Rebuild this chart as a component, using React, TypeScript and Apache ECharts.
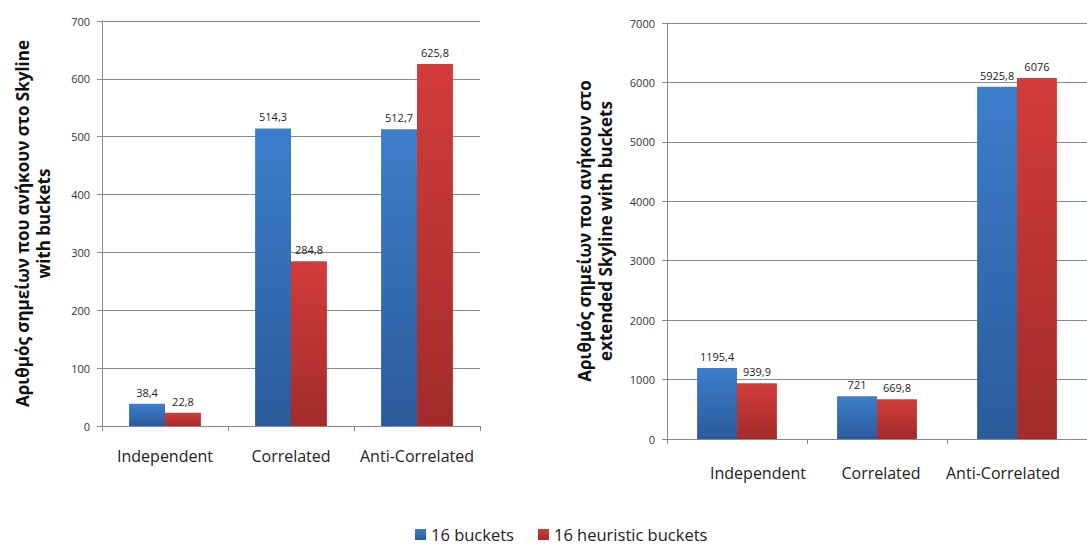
import React, { useEffect, useRef } from "react";
import * as echarts from "echarts";

// Dataset categories and values
const categories = ["Independent", "Correlated", "Anti-Correlated"];
const seriesNames = ["16 buckets", "16 heuristic buckets"];

// Skyline with buckets
const skylineBuckets = [38.4, 514.3, 512.7];
const skylineHeuristic = [22.8, 284.8, 625.8];

// Extended Skyline with buckets
const extBuckets = [1195.4, 721, 5925.8];
const extHeuristic = [939.9, 669.8, 6076];

const leftAxisName = "Αριθμός σημείων που ανήκουν στο Skyline\nwith buckets";
const rightAxisName = "Αριθμός σημείων που ανήκουν στο\nextended Skyline with buckets";

const FONT = "'Open Sans', 'Noto Sans', sans-serif";

const blueFill = new echarts.graphic.LinearGradient(0, 0, 0, 1, [
  { offset: 0, color: "#3d7ecb" },
  { offset: 1, color: "#2b5b9b" },
]);
const redFill = new echarts.graphic.LinearGradient(0, 0, 0, 1, [
  { offset: 0, color: "#d33c3b" },
  { offset: 1, color: "#a22b2b" },
]);

const fmt = (p: any) => String(p.value).replace(".", ",");

function makeBar(name: string, data: number[], idx: number, fill: any, color: string) {
  return {
    type: "bar",
    name,
    data,
    xAxisIndex: idx,
    yAxisIndex: idx,
    barGap: "0%",
    barCategoryGap: "43%",
    color,
    itemStyle: { color: fill },
    label: {
      show: true,
      position: "top",
      distance: 6,
      formatter: fmt,
      fontFamily: FONT,
      fontSize: 11,
      color: "#222",
    },
  };
}

const catLabelStyle = { fontFamily: FONT, fontSize: 16, color: "#222" };

// Right-hand panel: the category captions sit a little off-centre so the last one stays on screen
const rightLabelRich = {
  c0: { ...catLabelStyle, padding: [0, 0, 0, 42] },
  c1: { ...catLabelStyle, padding: [0, 0, 0, 8] },
  c2: { ...catLabelStyle, padding: [0, 28, 0, 0] },
};

function xAxis(idx: number, margin: number, shifted: boolean) {
  return {
    type: "category",
    gridIndex: idx,
    data: categories,
    axisLine: { lineStyle: { color: "#888", width: 1 } },
    axisTick: { show: true, length: 5, lineStyle: { color: "#888" } },
    axisLabel: shifted
      ? {
          interval: 0,
          margin,
          ...catLabelStyle,
          formatter: (v: string, i: number) => `{c${i}|${v}}`,
          rich: rightLabelRich,
        }
      : { interval: 0, margin, ...catLabelStyle },
  };
}

function yAxis(idx: number, max: number, interval: number, name: string, nameGap: number) {
  return {
    type: "value",
    gridIndex: idx,
    min: 0,
    max,
    interval,
    name,
    nameLocation: "middle",
    nameRotate: 90,
    nameGap,
    nameTextStyle: {
      fontFamily: FONT,
      fontSize: 17,
      fontWeight: "bold",
      color: "#111",
      lineHeight: 21,
      align: "center",
    },
    axisLine: { show: true, lineStyle: { color: "#888", width: 1 } },
    axisTick: { show: true, length: 5, lineStyle: { color: "#888" } },
    splitLine: { lineStyle: { color: "#8a8a8a", width: 1 } },
    axisLabel: {
      fontFamily: FONT,
      fontSize: 11,
      color: "#333",
      margin: 12,
      formatter: (v: number) => String(v),
    },
  };
}

export default function App() {
  const ref = useRef<HTMLDivElement>(null);

  useEffect(() => {
    if (!ref.current) return;
    const chart = echarts.init(ref.current, undefined, { renderer: "svg" });
    chart.setOption({
      animation: false,
      backgroundColor: "#ffffff",
      legend: {
        data: seriesNames,
        bottom: -3,
        left: 410,
        icon: "rect",
        itemWidth: 11,
        itemHeight: 11,
        itemGap: 24,
        textStyle: { fontFamily: FONT, fontSize: 16.5, lineHeight: 16, color: "#222" },
      },
      grid: [
        { left: 102, top: 21, width: 378, height: 405 },
        { left: 667, top: 23, width: 429, height: 416 },
      ],
      xAxis: [xAxis(0, 22, false), xAxis(1, 26, true)],
      yAxis: [
        yAxis(0, 700, 100, leftAxisName, 48),
        yAxis(1, 7000, 1000, rightAxisName, 51),
      ],
      series: [
        makeBar(seriesNames[0], skylineBuckets, 0, blueFill, "#3a78c3"),
        makeBar(seriesNames[1], skylineHeuristic, 0, redFill, "#c83535"),
        makeBar(seriesNames[0], extBuckets, 1, blueFill, "#3a78c3"),
        makeBar(seriesNames[1], extHeuristic, 1, redFill, "#c83535"),
      ],
    });
    return () => chart.dispose();
  }, []);

  return (
    <div
      ref={ref}
      style={{ position: "fixed", left: 0, top: 0, width: 1087, height: 545 }}
    />
  );
}
